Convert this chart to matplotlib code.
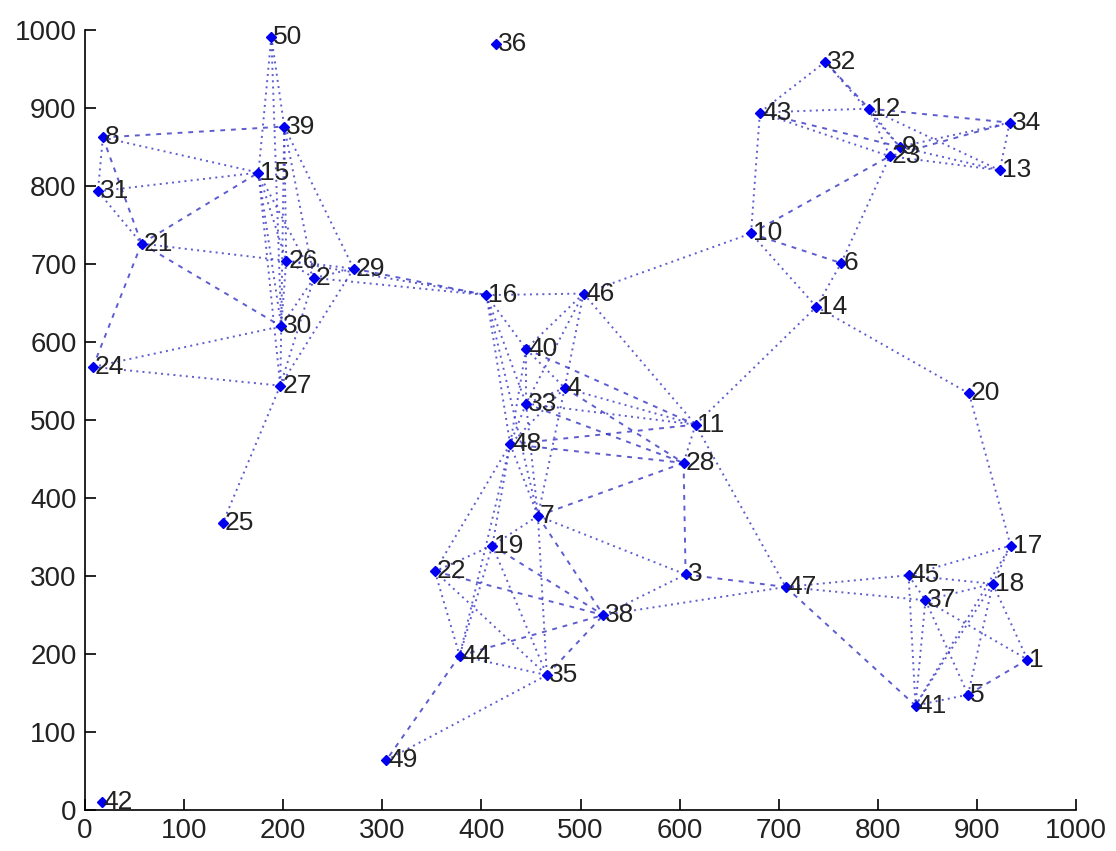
import matplotlib
matplotlib.use("Agg")
import matplotlib.pyplot as plt

# Node ids and coordinates
node_ids = list(range(1, 51))
node_x = [951, 231, 606, 484, 891, 763, 457, 18, 822, 672,
          616, 791, 923, 738, 175, 405, 934, 916, 411, 892,
          57, 353, 812, 8, 139, 203, 197, 604, 271, 198,
          13, 747, 445, 933, 466, 415, 848, 523, 201, 445,
          838, 17, 681, 378, 831, 503, 707, 429, 304, 188]
node_y = [193, 682, 302, 541, 148, 701, 377, 862, 850, 739,
          494, 899, 820, 645, 817, 660, 339, 290, 339, 534,
          726, 306, 838, 568, 368, 704, 544, 445, 694, 620,
          793, 959, 521, 881, 173, 982, 269, 250, 876, 591,
          134, 10, 894, 198, 301, 662, 286, 469, 64, 991]

# Links (node id pairs)
dotted_edges = [
    (50, 39), (50, 30), (50, 15), (8, 15), (8, 31), (31, 15), (31, 21), (21, 26),
    (39, 29), (39, 2), (39, 26), (39, 30), (15, 26), (15, 30), (15, 2), (15, 27),
    (26, 29), (2, 29), (26, 2), (26, 30), (30, 27), (2, 27), (29, 27), (2, 30),
    (24, 30), (24, 27), (27, 25), (2, 16), (26, 16),
    (16, 46), (16, 40), (16, 33), (16, 48), (16, 7), (46, 10), (46, 11), (46, 4),
    (46, 33), (46, 40), (40, 4), (40, 33), (40, 48), (4, 33), (4, 11), (4, 48),
    (4, 7), (33, 11), (33, 48), (33, 7), (48, 7), (48, 19), (48, 22), (48, 44),
    (7, 19), (7, 3), (7, 35), (11, 14), (11, 47), (11, 28), (19, 22), (19, 44),
    (19, 35), (22, 44), (22, 35), (44, 35), (35, 49), (38, 3), (38, 47), (47, 45),
    (47, 37), (45, 18), (45, 17), (45, 41), (45, 37), (37, 41), (37, 1), (37, 5),
    (37, 18), (18, 1), (18, 5), (18, 41), (18, 17), (17, 20), (17, 41), (5, 41),
    (20, 14), (14, 10), (14, 6), (10, 43), (43, 32), (43, 12), (43, 23), (12, 9),
    (12, 13), (34, 13), (34, 9), (23, 13), (9, 13), (32, 9), (12, 23), (6, 23),
]
dashed_edges = [
    (8, 39), (8, 21), (21, 15), (21, 30), (21, 24), (29, 16), (4, 28), (33, 28),
    (48, 28), (48, 11), (7, 28), (7, 38), (19, 38), (22, 38), (44, 38), (35, 38),
    (44, 49), (28, 3), (3, 47), (47, 41), (1, 5), (10, 23), (10, 6), (43, 9),
    (12, 34), (34, 23), (32, 12), (40, 11),
]

x_ticks = [0, 100, 200, 300, 400, 500, 600, 700, 800, 900, 1000]
y_ticks = [0, 100, 200, 300, 400, 500, 600, 700, 800, 900, 1000]

fig = plt.figure(figsize=(11.16, 8.51), dpi=100)
ax = fig.add_axes([0.0762, 0.048, 0.888, 0.917])

pos = {i: (x, y) for i, x, y in zip(node_ids, node_x, node_y)}
line_color = "#3434c4"
for a, b in dotted_edges:
    ax.plot([pos[a][0], pos[b][0]], [pos[a][1], pos[b][1]], color=line_color,
            lw=1.4, linestyle=(0, (1, 2.2)), alpha=0.8, zorder=1)
for a, b in dashed_edges:
    ax.plot([pos[a][0], pos[b][0]], [pos[a][1], pos[b][1]], color=line_color,
            lw=1.4, linestyle=(0, (2.5, 3)), alpha=0.8, zorder=1)

ax.plot(node_x, node_y, linestyle="none", marker="D", markersize=5.5,
        color="#0000ee", zorder=3)
for i, x, y in zip(node_ids, node_x, node_y):
    ax.text(x + 2, y, str(i), fontsize=19, family=["Liberation Sans", "DejaVu Sans"],
            color="#222222", ha="left", va="center", zorder=4)

ax.set_xlim(0, 1000)
ax.set_ylim(0, 1000)
ax.set_xticks(x_ticks)
ax.set_yticks(y_ticks)
ax.set_xticklabels([str(t) for t in x_ticks], fontsize=20,
                   family=["Liberation Sans", "DejaVu Sans"], color="#222222")
ax.set_yticklabels([str(t) for t in y_ticks], fontsize=20,
                   family=["Liberation Sans", "DejaVu Sans"], color="#222222")
ax.tick_params(direction="in", length=8, width=1.2, pad=6)
ax.spines["top"].set_visible(False)
ax.spines["right"].set_visible(False)
ax.spines["left"].set_linewidth(1.2)
ax.spines["bottom"].set_linewidth(1.2)

fig.savefig("out.png", dpi=100)
